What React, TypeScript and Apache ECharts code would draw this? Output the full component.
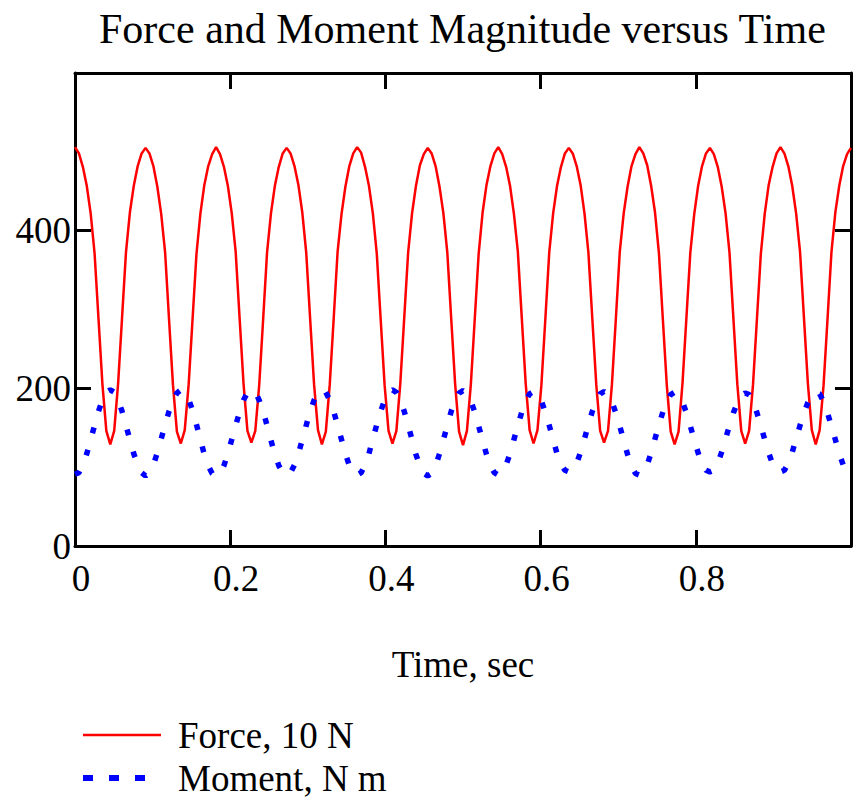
import { useEffect, useRef } from "react";
import * as echarts from "echarts";

const TITLE = "Force and Moment Magnitude versus Time";
const X_NAME = "Time, sec";
const FORCE_NAME = "Force, 10 N";
const MOMENT_NAME = "Moment, N m";

// sample interval of the time axis (s)
const SAMPLE_STEP = 1 / 198;

// Force magnitude (units of 10 N), one value per sample
const FORCE = [
  506, 498, 481, 457, 422, 371, 288, 205, 146, 129, 146, 206, 289, 372, 423, 457, 482, 498,
  505, 498, 482, 456, 421, 372, 287, 204, 145, 130, 147, 205, 288, 371, 422, 458, 482, 497,
  506, 497, 481, 457, 422, 373, 289, 206, 146, 131, 146, 204, 287, 372, 422, 457, 481, 498,
  505, 498, 482, 458, 423, 372, 288, 205, 147, 129, 145, 205, 288, 373, 421, 456, 482, 498,
  506, 499, 481, 457, 422, 371, 287, 204, 146, 130, 146, 206, 289, 372, 422, 457, 483, 497,
  505, 498, 482, 456, 422, 372, 288, 205, 145, 128, 146, 205, 288, 371, 423, 458, 482, 498,
  506, 497, 481, 457, 421, 373, 289, 206, 147, 130, 147, 204, 287, 372, 422, 457, 481, 498,
  505, 498, 482, 458, 422, 372, 288, 205, 146, 131, 146, 205, 288, 373, 422, 456, 482, 497,
  506, 498, 483, 457, 423, 371, 287, 204, 145, 129, 145, 206, 289, 372, 421, 457, 482, 498,
  505, 497, 481, 456, 422, 372, 288, 205, 146, 130, 146, 205, 288, 371, 422, 458, 481, 498,
  506, 498, 482, 457, 422, 373, 289, 206, 147, 129, 147, 204, 287, 372, 423, 457, 482, 497,
  505,
];

// Moment magnitude (N m), one value per sample
const MOMENT = [
  91, 93, 103, 117, 135, 153, 171, 185, 195, 198, 195, 185, 171, 153, 135, 117, 103, 93,
  89, 93, 103, 118, 136, 154, 171, 185, 194, 198, 195, 186, 172, 154, 135, 116, 102, 92,
  89, 92, 102, 117, 135, 153, 170, 185, 195, 198, 195, 185, 171, 153, 134, 116, 102, 93,
  90, 93, 103, 117, 135, 153, 171, 185, 195, 198, 195, 185, 171, 153, 135, 117, 102, 93,
  90, 93, 103, 117, 136, 154, 171, 185, 195, 198, 195, 185, 171, 153, 135, 116, 102, 92,
  89, 92, 102, 117, 135, 153, 171, 185, 194, 197, 194, 184, 170, 152, 134, 116, 102, 93,
  90, 93, 103, 117, 135, 153, 170, 184, 193, 196, 194, 184, 170, 153, 135, 117, 104, 96,
  94, 96, 105, 119, 136, 154, 171, 184, 193, 196, 193, 183, 169, 152, 134, 116, 101, 92,
  90, 93, 103, 118, 136, 154, 170, 183, 192, 195, 192, 183, 169, 152, 135, 118, 104, 96,
  94, 96, 105, 119, 136, 153, 169, 182, 191, 194, 192, 183, 169, 152, 135, 118, 104, 96,
  94, 96, 105, 119, 136, 153, 169, 182, 192, 195, 193, 183, 169, 152, 135, 117, 103, 95,
  93,
];

const X_MIN = 0;
const X_MAX = 1;
const X_INTERVAL = 0.2;
const Y_MIN = 0;
const Y_MAX = 600;
const Y_INTERVAL = 200;

const FONT = "'Liberation Serif', 'Times New Roman', serif";

export default function App() {
  const ref = useRef<HTMLDivElement>(null);

  useEffect(() => {
    if (!ref.current) return;
    const chart = echarts.init(ref.current, null, { renderer: "svg" });

    const forceData = FORCE.map((v, i) => [i * SAMPLE_STEP, v]);
    const momentData = MOMENT.map((v, i) => [i * SAMPLE_STEP, v]);

    const axisLine = { show: true, onZero: false, lineStyle: { color: "#000", width: 3 } };
    const axisTick = { show: true, inside: true, length: 16, lineStyle: { color: "#000", width: 3 } };

    chart.setOption({
      animation: false,
      backgroundColor: "#fff",
      title: {
        text: TITLE,
        left: 94,
        top: 3,
        textStyle: { fontFamily: FONT, fontSize: 42, fontWeight: "normal", color: "#000" },
      },
      grid: { left: 75, right: 4, top: 73, bottom: 258, containLabel: false },
      xAxis: [
        {
          type: "value",
          position: "bottom",
          min: X_MIN,
          max: X_MAX,
          interval: X_INTERVAL,
          axisLine,
          axisTick,
          splitLine: { show: false },
          axisLabel: {
            fontFamily: FONT,
            fontSize: 37,
            color: "#000",
            margin: 14,
            showMaxLabel: false,
            padding: [0, 0, 0, 12],
          },
          name: X_NAME,
          nameLocation: "middle",
          nameGap: 100,
          nameTextStyle: { fontFamily: FONT, fontSize: 37, color: "#000" },
        },
        {
          type: "value",
          position: "top",
          min: X_MIN,
          max: X_MAX,
          interval: X_INTERVAL,
          axisLine,
          axisTick,
          splitLine: { show: false },
          axisLabel: { show: false },
        },
      ],
      yAxis: [
        {
          type: "value",
          position: "left",
          min: Y_MIN,
          max: Y_MAX,
          interval: Y_INTERVAL,
          axisLine,
          axisTick,
          splitLine: { show: false },
          axisLabel: {
            fontFamily: FONT,
            fontSize: 37,
            color: "#000",
            margin: 4,
            showMaxLabel: false,
            padding: [10, 0, 0, 0],
          },
        },
        {
          type: "value",
          position: "right",
          min: Y_MIN,
          max: Y_MAX,
          interval: Y_INTERVAL,
          axisLine,
          axisTick,
          splitLine: { show: false },
          axisLabel: { show: false },
        },
      ],
      legend: {
        orient: "vertical",
        left: 80,
        top: 716,
        height: 88,
        padding: 0,
        itemWidth: 78,
        itemHeight: 14,
        itemGap: 5,
        itemStyle: { opacity: 0 },
        textStyle: { fontFamily: FONT, fontSize: 37, color: "#000", padding: [0, 0, 0, 12], lineHeight: 38 },
        data: [
          { name: FORCE_NAME, itemStyle: { opacity: 0 }, lineStyle: { width: 2.5, type: "solid" } },
          { name: MOMENT_NAME, itemStyle: { opacity: 0 }, lineStyle: { width: 6, type: [10, 16], cap: "butt" } },
        ],
      },
      series: [
        {
          name: FORCE_NAME,
          type: "line",
          xAxisIndex: 0,
          yAxisIndex: 0,
          data: forceData,
          showSymbol: false,
          symbol: "none",
          lineStyle: { color: "#ff0000", width: 2.5 },
          itemStyle: { color: "#ff0000" },
        },
        {
          name: MOMENT_NAME,
          type: "line",
          xAxisIndex: 0,
          yAxisIndex: 0,
          data: momentData,
          showSymbol: false,
          symbol: "none",
          lineStyle: { color: "#0000ff", width: 5.5, type: [6, 17], cap: "butt" },
          itemStyle: { color: "#0000ff" },
        },
      ],
    });

    return () => chart.dispose();
  }, []);

  return (
    <div
      ref={ref}
      style={{ position: "fixed", left: 0, top: 0, width: 855, height: 804, background: "#fff" }}
    />
  );
}
